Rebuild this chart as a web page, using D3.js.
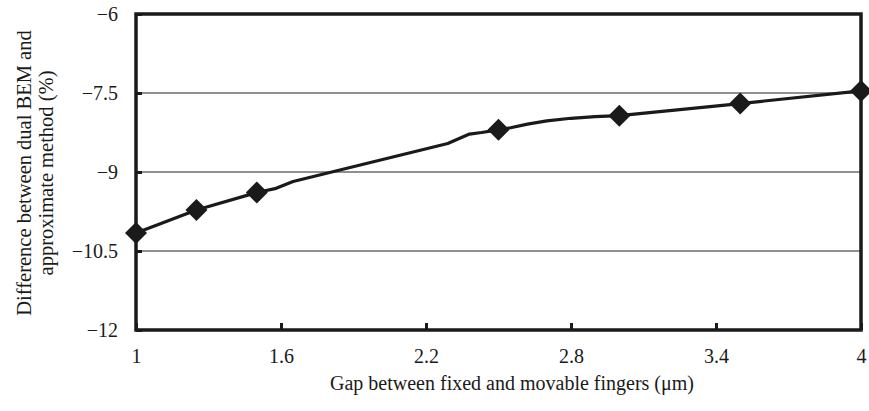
<!DOCTYPE html>
<meta charset="utf-8">
<head>
    <script type="text/javascript" src="https://d3js.org/d3.v7.min.js"></script>
    <style>
        body { margin: 0; background: #fff; }
        text { font-family: "Liberation Serif", "Times New Roman", serif; fill: #1a1a1a; }
    </style>
    <title>Difference between dual BEM and approximate method</title>
</head>

<body>

<script>

    // data
    var lineGap  = [1.0, 1.25, 1.5, 1.58, 1.65, 2.29, 2.38, 2.43, 2.5, 2.55, 2.62, 2.7, 2.8, 2.9, 3.0, 3.5, 4.0];
    var lineDiff = [-10.16, -9.72, -9.39, -9.31, -9.18, -8.46, -8.28, -8.25, -8.2, -8.16, -8.09, -8.03, -7.98, -7.95, -7.93, -7.7, -7.46];

    var markerGap  = [1.0, 1.25, 1.5, 2.5, 3.0, 3.5, 4.0];
    var markerDiff = [-10.16, -9.72, -9.39, -8.2, -7.93, -7.7, -7.46];

    var xTicks = [1, 1.6, 2.2, 2.8, 3.4, 4];
    var yTicks = [-12, -10.5, -9, -7.5, -6];

    var xTitle = "Gap between fixed and movable fingers (\u03bcm)";
    var yTitle = ["Difference between dual BEM and", "approximate method (%)"];

    // dimensions
    var margin = {top: 14, right: 8, bottom: 81, left: 136};
    var width = 869 - margin.left - margin.right;
    var height = 411 - margin.top - margin.bottom;

    var svg = d3.select("body")
        .append("svg")
        .attr("width", 869)
        .attr("height", 411);

    var g = svg.append("g")
        .attr("transform", "translate(" + margin.left + "," + margin.top + ")");

    var x = d3.scaleLinear().domain([1, 4]).range([0, width]);
    var y = d3.scaleLinear().domain([-12, -6]).range([height, 0]);

    var fmt = function (d) { return String(d).replace("-", "\u2212"); };

    // gridlines
    g.selectAll(".grid")
        .data(yTicks.filter(function (d) { return d > -12 && d < -6; }))
        .enter().append("line")
        .attr("class", "grid")
        .attr("x1", 0).attr("x2", width)
        .attr("y1", function (d) { return y(d); })
        .attr("y2", function (d) { return y(d); })
        .attr("stroke", "#222")
        .attr("stroke-width", 1.2);

    // x axis, ticks pointing inward
    var xAxis = g.append("g")
        .attr("transform", "translate(0," + height + ")")
        .call(d3.axisBottom(x).tickValues(xTicks).tickSize(-7).tickPadding(19).tickFormat(fmt));
    xAxis.select(".domain").remove();
    xAxis.attr("font-family", null);
    xAxis.selectAll(".tick line").attr("stroke", "#1a1a1a").attr("stroke-width", 3);
    xAxis.selectAll(".tick text").attr("font-size", 20).attr("fill", "#1a1a1a");

    // y axis
    var yAxis = g.append("g")
        .call(d3.axisLeft(y).tickValues(yTicks).tickSize(-6).tickPadding(18).tickFormat(fmt));
    yAxis.select(".domain").remove();
    yAxis.attr("font-family", null);
    yAxis.selectAll(".tick line").attr("stroke", "#1a1a1a").attr("stroke-width", 3);
    yAxis.selectAll(".tick text").attr("font-size", 20).attr("fill", "#1a1a1a");

    // frame
    g.append("rect")
        .attr("x", 0).attr("y", 0)
        .attr("width", width).attr("height", height)
        .attr("fill", "none")
        .attr("stroke", "#1a1a1a")
        .attr("stroke-width", 3.5);

    // curve
    var line = d3.line()
        .x(function (d) { return x(d[0]); })
        .y(function (d) { return y(d[1]); });

    g.append("path")
        .datum(d3.zip(lineGap, lineDiff))
        .attr("d", line)
        .attr("fill", "none")
        .attr("stroke", "#1a1a1a")
        .attr("stroke-width", 3.2)
        .attr("stroke-linejoin", "round");

    // diamond markers
    g.selectAll(".marker")
        .data(d3.zip(markerGap, markerDiff))
        .enter().append("path")
        .attr("class", "marker")
        .attr("transform", function (d) { return "translate(" + x(d[0]) + "," + y(d[1]) + ")"; })
        .attr("d", "M0,-11L11,0L0,11L-11,0Z")
        .attr("fill", "#1a1a1a");

    // axis titles
    svg.append("text")
        .attr("x", 512)
        .attr("y", 390)
        .attr("text-anchor", "middle")
        .attr("font-size", 20)
        .text(xTitle);

    svg.append("g")
        .attr("transform", "translate(31," + (margin.top + height / 2 + 1) + ") rotate(-90)")
        .selectAll("text")
        .data(yTitle)
        .enter().append("text")
        .attr("x", 0)
        .attr("y", function (d, i) { return i * 22; })
        .attr("text-anchor", "middle")
        .attr("font-size", 20.5)
        .text(function (d) { return d; });

</script>

</body>

</html>
